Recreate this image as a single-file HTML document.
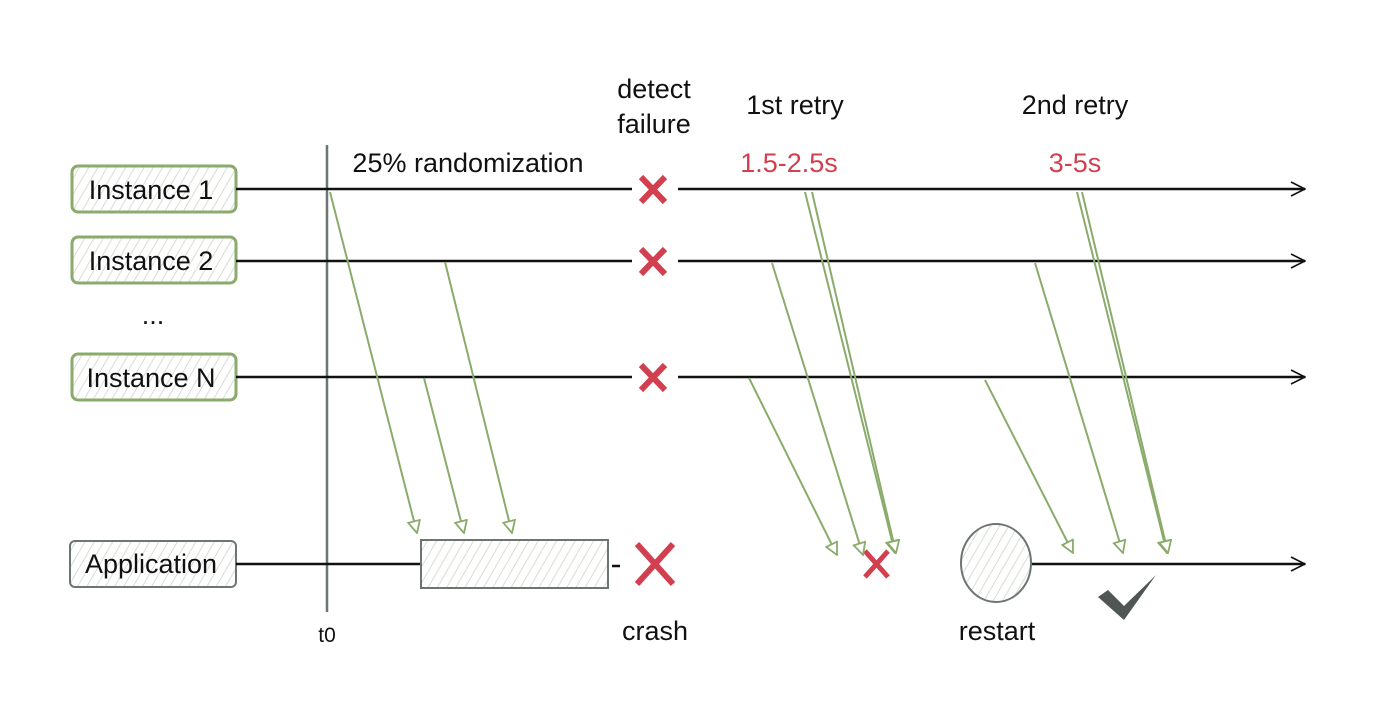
<!DOCTYPE html>
<html><head><meta charset="utf-8"><style>
html,body{margin:0;padding:0;background:#fff;}
text{font-family:"Liberation Sans",sans-serif;font-size:27px;fill:#111;}
</style></head><body>
<svg width="1400" height="720" viewBox="0 0 1400 720" xmlns="http://www.w3.org/2000/svg">
<defs>
<pattern id="h" width="8" height="8" patternUnits="userSpaceOnUse" patternTransform="rotate(30)">
<line x1="0" y1="0" x2="0" y2="8" stroke="#d8ddd4" stroke-width="2"/></pattern>
<marker id="ga" viewBox="0 0 14 14" refX="13" refY="7" markerWidth="14" markerHeight="14" markerUnits="userSpaceOnUse" orient="auto">
<path d="M1,1 L13,7 L1,13 Z" fill="#fff" stroke="#8aab6c" stroke-width="1.8"/></marker>
<marker id="ba" viewBox="0 0 16 16" refX="15" refY="8" markerWidth="16" markerHeight="16" markerUnits="userSpaceOnUse" orient="auto">
<path d="M1,1 L15,8 L1,15" fill="none" stroke="#111" stroke-width="1.6"/></marker>
</defs>
<g stroke-width="3">
<rect x="72" y="166" width="164" height="46" rx="6" fill="url(#h)" stroke="#8aab6c"/>
<rect x="72" y="237" width="164" height="46" rx="6" fill="url(#h)" stroke="#8aab6c"/>
<rect x="72" y="354" width="164" height="46" rx="6" fill="url(#h)" stroke="#8aab6c"/>
<rect x="70" y="541" width="166" height="46" rx="5" fill="url(#h)" stroke="#6d7572" stroke-width="2"/>
</g>
<text x="151" y="199" text-anchor="middle">Instance 1</text>
<text x="151" y="270" text-anchor="middle">Instance 2</text>
<text x="151" y="387" text-anchor="middle">Instance N</text>
<text x="151" y="573" text-anchor="middle">Application</text>
<text x="153" y="324" text-anchor="middle">...</text>
<line x1="327" y1="145" x2="327" y2="612" stroke="#6d7572" stroke-width="2.5"/>
<text x="327" y="642" text-anchor="middle" style="font-size:21px">t0</text>
<g stroke="#111" stroke-width="2.5" fill="none">
<line x1="236" y1="189" x2="632" y2="189"/>
<line x1="678" y1="189" x2="1305" y2="189" marker-end="url(#ba)"/>
<line x1="236" y1="261" x2="632" y2="261"/>
<line x1="678" y1="261" x2="1305" y2="261" marker-end="url(#ba)"/>
<line x1="236" y1="377" x2="632" y2="377"/>
<line x1="678" y1="377" x2="1305" y2="377" marker-end="url(#ba)"/>
<line x1="236" y1="564" x2="420" y2="564"/>
<line x1="612" y1="566" x2="620" y2="566"/>
<line x1="1032" y1="564" x2="1305" y2="564" marker-end="url(#ba)"/>
</g>
<rect x="421" y="540" width="187" height="48" fill="url(#h)" stroke="#6d7572" stroke-width="2"/>
<ellipse cx="996" cy="563" rx="35" ry="39" fill="url(#h)" stroke="#6d7572" stroke-width="2"/>
<g stroke="#d2404f" stroke-width="6">
<path d="M641,177 L665,202 M665,177 L641,202"/>
<path d="M641,249 L665,274 M665,249 L641,274"/>
<path d="M641,365 L665,390 M665,365 L641,390"/>
<path d="M637,544 L673,584 M673,544 L637,584"/>
<path d="M865,551 L888,577 M888,551 L865,577" stroke-width="5"/>
</g>
<path d="M1098,597 L1108,590 L1124,606 L1156,575 L1124,620 Z" fill="#4f5654"/>
<g stroke="#8aab6c" stroke-width="2" fill="none" marker-end="url(#ga)">
<line x1="330" y1="192" x2="417" y2="533"/>
<line x1="424" y1="378" x2="464" y2="533"/>
<line x1="445" y1="262" x2="512" y2="533"/>
<line x1="749" y1="378" x2="837" y2="555"/>
<line x1="772" y1="263" x2="863" y2="555"/>
<line x1="805" y1="192" x2="895" y2="553"/>
<line x1="812" y1="192" x2="896" y2="553"/>
<line x1="985" y1="380" x2="1073" y2="553"/>
<line x1="1035" y1="263" x2="1123" y2="553"/>
<line x1="1077" y1="192" x2="1167" y2="553"/>
<line x1="1082" y1="192" x2="1168" y2="553"/>
</g>
<text x="654" y="98" text-anchor="middle">detect</text>
<text x="654" y="133" text-anchor="middle">failure</text>
<text x="795" y="114" text-anchor="middle">1st retry</text>
<text x="1075" y="114" text-anchor="middle">2nd retry</text>
<text x="468" y="172" text-anchor="middle">25% randomization</text>
<text x="789" y="172" text-anchor="middle" style="fill:#d2404f">1.5-2.5s</text>
<text x="1075" y="172" text-anchor="middle" style="fill:#d2404f">3-5s</text>
<text x="655" y="640" text-anchor="middle">crash</text>
<text x="997" y="640" text-anchor="middle">restart</text>
</svg>
</body></html>
